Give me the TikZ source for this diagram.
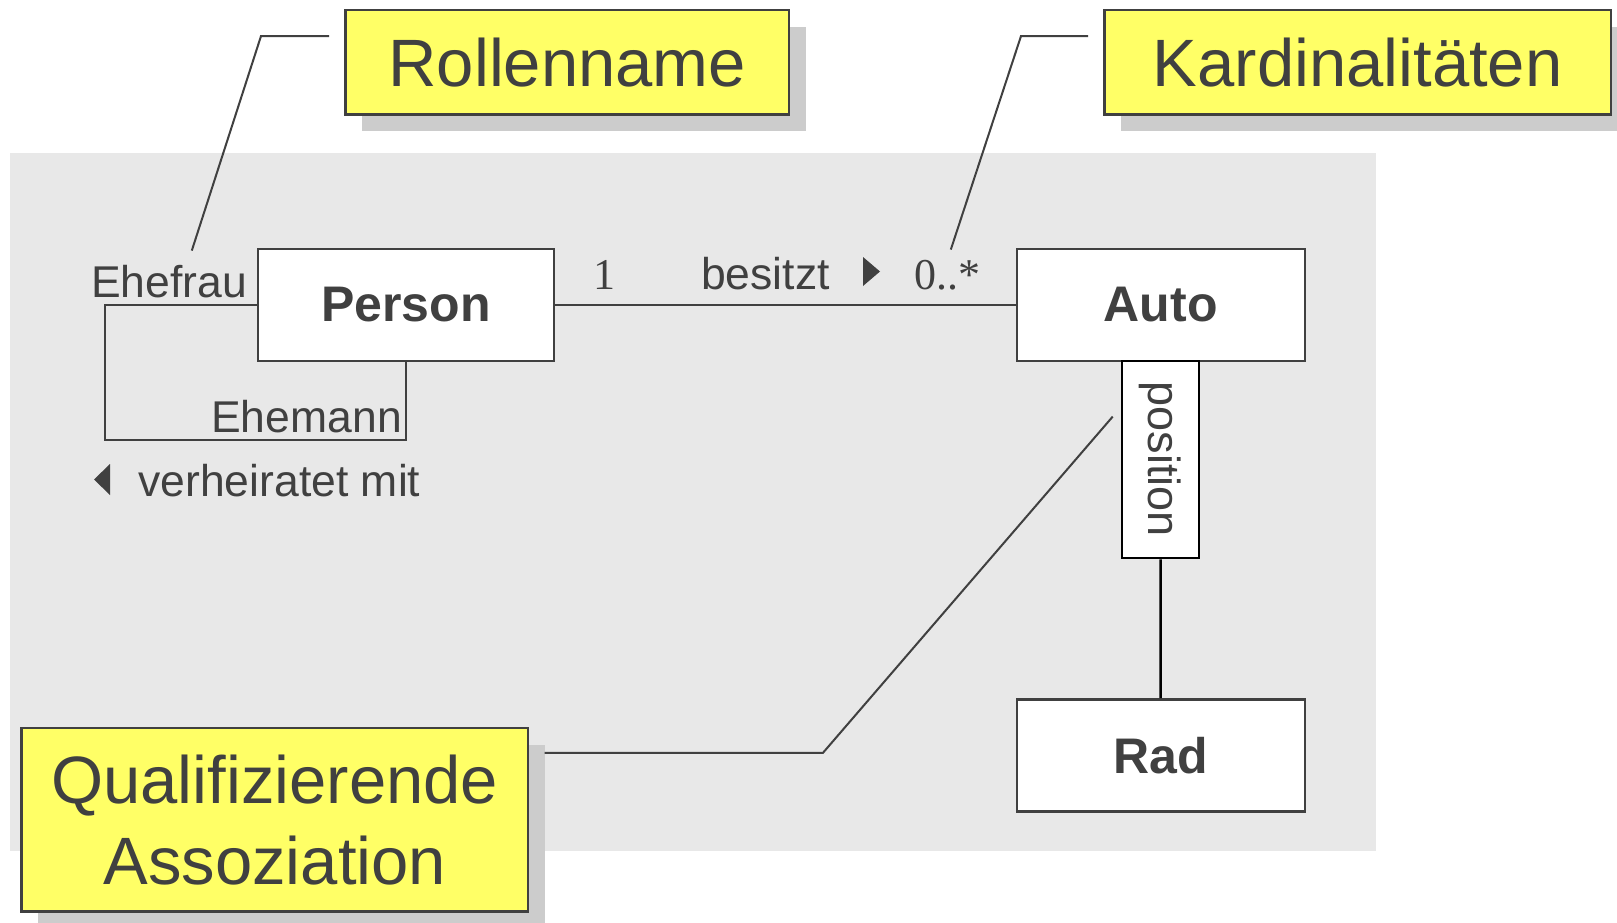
\documentclass[tikz,border=0pt]{standalone}
\usepackage{fontspec}
\setmainfont{Liberation Sans}
\newfontfamily\numfont{Liberation Serif}
\definecolor{ink}{HTML}{404040}
\definecolor{notefill}{HTML}{FFFF66}
\definecolor{shadowgray}{HTML}{CCCCCC}
\definecolor{panel}{HTML}{E8E8E8}
\begin{document}
\begin{tikzpicture}[x=1pt,y=-1pt,
  classbox/.style={draw=ink, line width=2.4pt, fill=white, inner sep=0pt,
    minimum width=288pt, minimum height=112pt,
    font=\fontsize{50}{60}\selectfont\bfseries, text=ink},
  notebox/.style={draw=ink, line width=2.4pt, fill=notefill, inner sep=0pt,
    align=center, font=\fontsize{67}{80.6}\selectfont, text=ink},
  shadowbox/.style={fill=shadowgray},
  rolelabel/.style={inner sep=0pt, font=\fontsize{44.5}{53}\selectfont, text=ink},
  multlabel/.style={inner sep=0pt, font=\fontsize{44}{53}\numfont, text=ink},
  conn/.style={draw=ink, line width=2pt},
  qualbox/.style={draw=black, line width=2.6pt, fill=white, inner sep=0pt,
    minimum width=197pt, minimum height=77pt,
    font=\fontsize{45}{54}\selectfont, text=ink},
]
\useasboundingbox (0,0) rectangle (1617,923);

% grey drawing panel
\fill[panel] (10.3,152.6) rectangle (1375.7,850.8);

% classes
\node[classbox, minimum width=296pt] (person) at (405.8,304.8) {Person};
\node[classbox] (auto) at (1160.7,304.8) {Auto};
\node[classbox] (rad) at (1160.7,755.3) {Rad};
\node[qualbox, rotate=-90] (posbox) at (1160.6,459.5) {position};

% associations
\draw[conn] (person) -- (auto);
\draw[black, line width=2.4pt] (posbox) -- (rad);
\coordinate (loopcorner) at (105.2,440.3);
\draw[conn] (person.west) -| (loopcorner) -| (person.south);

% role names, multiplicities and association names
\node[rolelabel, anchor=base west] (ehefrau) at (90.8,297) {Ehefrau};
\node[rolelabel, anchor=base east] (ehemann) at (402,432) {Ehemann};
\node[rolelabel, anchor=base west] (verh) at (138.2,496.5) {verheiratet mit};
\node[rolelabel, anchor=base west] (besitzt) at (701,289) {besitzt};
\node[multlabel, anchor=base west] (one) at (593,289) {1};
\node[multlabel, anchor=base west] (many) at (914,289) {0..*};
\fill[ink] (863,257) -- (880,271.5) -- (863,286) -- cycle;
\fill[ink] (110,464) -- (94,479.5) -- (110,495) -- cycle;

% callouts with drop shadows
\fill[shadowbox] (362,26.8) rectangle (805.5,131);
\node[notebox, minimum width=443.5pt, minimum height=104.2pt] (rollen) at (567.3,62.4) {Rollenname};
\fill[shadowbox] (1121,26.8) rectangle (1627,131);
\node[notebox, minimum width=506.3pt, minimum height=104.2pt] (kard) at (1357.6,62.4) {Kardinalitäten};
\fill[shadowbox] (38.2,744.5) rectangle (544.5,930);
\node[notebox, minimum width=506.3pt, minimum height=183.6pt] (quali) at (274.8,819.8) {Qualifizierende\\Assoziation};

% callout leader lines
\coordinate (rollfoot) at (191.8,250.6);
\coordinate (rollknee) at (261,36.1);
\coordinate (rollend) at (329,36.1);
\draw[conn] (rollfoot) -- (rollknee) -- (rollend);
\coordinate (kardfoot) at (950.8,249.6);
\coordinate (kardknee) at (1021,36.1);
\coordinate (kardend) at (1088,36.1);
\draw[conn] (kardfoot) -- (kardknee) -- (kardend);
\coordinate (qualstart) at (544.5,752.8);
\coordinate (qualknee) at (823,752.8);
\coordinate (qualfoot) at (1112.7,416.6);
\draw[conn] (qualstart) -- (qualknee) -- (qualfoot);
\end{tikzpicture}
\end{document}
